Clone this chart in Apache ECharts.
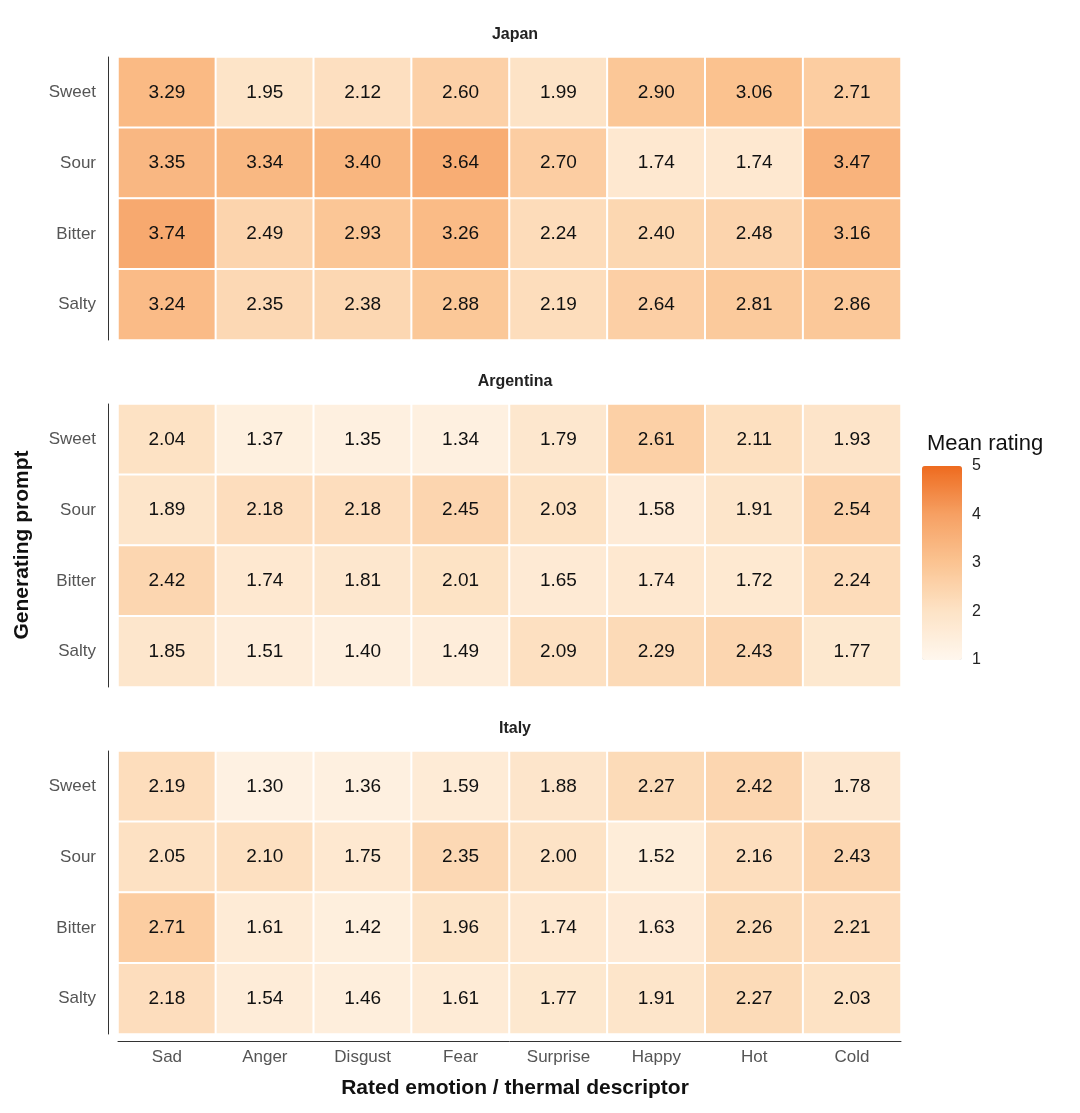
<!DOCTYPE html>
<html>
<head>
<meta charset="utf-8">
<script src="https://cdn.jsdelivr.net/npm/echarts@6/dist/echarts.min.js"></script>
</head>
<body style="margin:0">
<div id="main" style="width:1080px;height:1113px;"></div>
<script>
var descriptors = ['Sad', 'Anger', 'Disgust', 'Fear', 'Surprise', 'Happy', 'Hot', 'Cold'];
var prompts = ['Sweet', 'Sour', 'Bitter', 'Salty'];
var countries = ['Japan', 'Argentina', 'Italy'];
// rows in prompts order, columns in descriptors order
var japan = [
  [3.29, 1.95, 2.12, 2.60, 1.99, 2.90, 3.06, 2.71],
  [3.35, 3.34, 3.40, 3.64, 2.70, 1.74, 1.74, 3.47],
  [3.74, 2.49, 2.93, 3.26, 2.24, 2.40, 2.48, 3.16],
  [3.24, 2.35, 2.38, 2.88, 2.19, 2.64, 2.81, 2.86]
];
var argentina = [
  [2.04, 1.37, 1.35, 1.34, 1.79, 2.61, 2.11, 1.93],
  [1.89, 2.18, 2.18, 2.45, 2.03, 1.58, 1.91, 2.54],
  [2.42, 1.74, 1.81, 2.01, 1.65, 1.74, 1.72, 2.24],
  [1.85, 1.51, 1.40, 1.49, 2.09, 2.29, 2.43, 1.77]
];
var italy = [
  [2.19, 1.30, 1.36, 1.59, 1.88, 2.27, 2.42, 1.78],
  [2.05, 2.10, 1.75, 2.35, 2.00, 1.52, 2.16, 2.43],
  [2.71, 1.61, 1.42, 1.96, 1.74, 1.63, 2.26, 2.21],
  [2.18, 1.54, 1.46, 1.61, 1.77, 1.91, 2.27, 2.03]
];
var legendTicks = [1, 2, 3, 4, 5];

var tables = [japan, argentina, italy];
var tops = [57, 404, 751];
var font = 'Arial, Liberation Sans, sans-serif';
var yCats = prompts.slice().reverse();

var grids = [], xAxes = [], yAxes = [], series = [], titles = [];
tables.forEach(function (tbl, i) {
  grids.push({left: 118, width: 783, top: tops[i], height: 283});
  xAxes.push({
    type: 'category', data: descriptors, gridIndex: i, offset: 7,
    axisLine: {show: i === 2, lineStyle: {color: '#333'}},
    axisTick: {show: false},
    axisLabel: {show: i === 2, color: '#555', fontSize: 17, fontFamily: font, margin: 8}
  });
  yAxes.push({
    type: 'category', data: yCats, gridIndex: i, offset: 10,
    axisLine: {show: true, lineStyle: {color: '#333'}},
    axisTick: {show: false},
    axisLabel: {color: '#555', fontSize: 17, fontFamily: font, margin: 12}
  });
  var d = [];
  tbl.forEach(function (row, r) {
    row.forEach(function (v, c) {
      d.push([c, prompts.length - 1 - r, v]);
    });
  });
  series.push({
    type: 'heatmap', xAxisIndex: i, yAxisIndex: i, data: d,
    itemStyle: {borderColor: '#fff', borderWidth: 2},
    label: {show: true, fontSize: 19, color: '#111', fontFamily: font,
      formatter: function (p) { return p.value[2].toFixed(2); }}
  });
  titles.push({text: countries[i], left: 510, textAlign: 'center', top: tops[i] - 35,
    textStyle: {fontSize: 16, fontWeight: 'bold', color: '#222', fontFamily: font}});
});

// legend axis
grids.push({left: 922, width: 40, top: 466, height: 194});
xAxes.push({type: 'value', gridIndex: 3, show: false});
yAxes.push({type: 'value', gridIndex: 3, min: 1, max: 5, interval: 1, position: 'right',
  axisLine: {show: false}, splitLine: {show: false},
  axisTick: {show: true, inside: true, length: 8, lineStyle: {color: '#fff'}},
  axisLabel: {color: '#222', fontSize: 16, fontFamily: font, margin: 10,
    formatter: function (v) { return legendTicks.indexOf(v) >= 0 ? v : ''; }}
});
series.push({type: 'scatter', xAxisIndex: 3, yAxisIndex: 3, data: []});

titles.push({text: 'Mean rating', left: 922, top: 428,
  textStyle: {fontSize: 22, fontWeight: 'normal', color: '#111', fontFamily: font}});
titles.push({text: 'Rated emotion / thermal descriptor', left: 510, textAlign: 'center', top: 1073,
  textStyle: {fontSize: 21, fontWeight: 'bold', color: '#111', fontFamily: font}});

var option = {
  animation: false,
  backgroundColor: '#fff',
  title: titles,
  grid: grids,
  xAxis: xAxes,
  yAxis: yAxes,
  visualMap: {
    type: 'continuous', min: 1, max: 5, calculable: false, showLabel: false,
    padding: 0, left: 922, top: 466, itemWidth: 40, itemHeight: 194, seriesIndex: [0, 1, 2],
    z: 1,
    inRange: {color: ['#FFF7EE', '#FDE3C6', '#FBC492', '#F6A063', '#EE6B1F']}
  },
  graphic: [{
    type: 'text', rotation: Math.PI / 2, x: 22, y: 545,
    style: {text: 'Generating prompt', font: 'bold 21px ' + font, fill: '#111',
      textAlign: 'center', textVerticalAlign: 'middle'}
  }],
  series: series
};
var chart = echarts.init(document.getElementById('main'));
chart.setOption(option);
</script>
</body>
</html>
